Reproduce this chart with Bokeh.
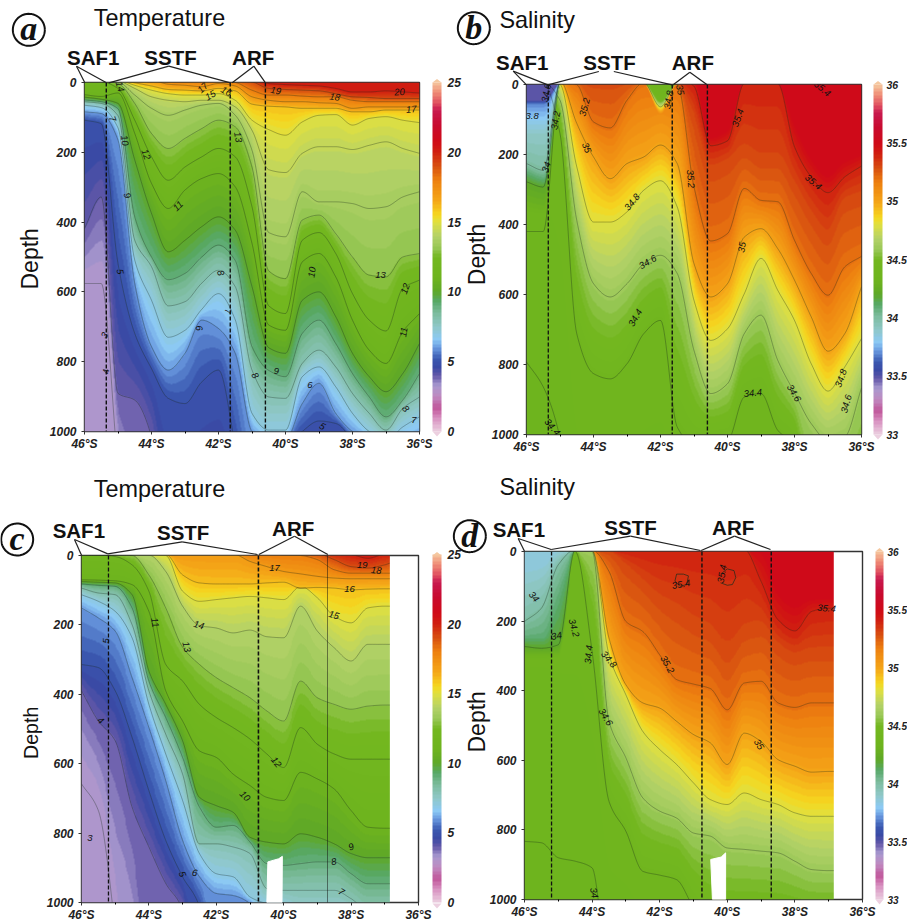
import math
import numpy as np
from bokeh.plotting import figure
from bokeh.embed import file_html
from bokeh.resources import INLINE
from bokeh.core.properties import value
from bokeh.models import Range1d, LinearColorMapper, ColorBar, FixedTicker, Label

# ---------- section coordinates ----------
LATS_NORTH = [-46, -45.5, -45, -44.5, -44, -43.5, -43, -42.5, -42, -41.5, -41, -40.5, -40, -39.5, -39,
              -38.5, -38, -37.5, -37, -36.5, -36]
LATS_SOUTH = [-46, -45.5, -45, -44.5, -44, -43.5, -43, -42.5, -42, -41.5, -41, -40.5, -40, -39.5, -39,
              -38.5, -38, -37.5, -37, -36.85]
LAT_TICKS = [-46, -44, -42, -40, -38, -36]
LAT_TICK_LABELS = ["46°S", "44°S", "42°S", "40°S", "38°S", "36°S"]
DEPTH_TICKS = [0, 200, 400, 600, 800, 1000]
TEMP_TICKS = [0, 5, 10, 15, 20, 25]
SAL_TICKS = [33, 33.5, 34, 34.5, 35, 35.5, 36]

# ---------- panel a: depth (m) of each isotherm along the section ----------
A_LEVELS = [20, 19, 18, 17, 16, 15, 14.3, 13.6, 13, 12, 11, 10, 9, 8, 7, 6, 5, 4, 3]
A_HIDDEN = []
A_DEPTHS = [
    [-10]*11 + [3, 6, 8, 10, 17, 27, 27, 24, 27, 30],
    [-10]*10 + [-2, 17, 20, 22, 24, 32, 41, 43, 46, 46, 46],
    [-10]*5 + [-7, -5, -5, -5, 0, 22, 36, 36, 39, 41, 41, 51, 55, 55, 55, 55],
    [-10, -10, -10, -9, -7, 5, 8, 12, 3, 10, 41, 51, 55, 55, 58, 60, 74, 70, 70, 70, 70],
    [-9, -9, -8, 1, 10, 20, 22, 24, 17, 24, 62, 68, 70, 74, 74, 74, 84, 84, 79, 79, 79],
    [-8, -8, -6, 8, 22, 32, 36, 36, 32, 51, 108, 135, 151, 113, 94, 92, 122, 103, 98, 108, 115],
    [-7, -7, -4, 17, 41, 51, 55, 51, 51, 70, 137, 250, 258, 203, 184, 184, 192, 180, 170, 189, 203],
    [-6, -6, -2, 36, 74, 94, 79, 65, 60, 94, 194, 430, 442, 313, 342, 342, 347, 361, 356, 328, 313],
    [-5, -4, 3, 60, 146, 189, 160, 132, 108, 127, 242, 540, 562, 394, 380, 433, 500, 552, 557, 500, 490],
    [-3, -2, 17, 108, 213, 280, 242, 213, 189, 213, 356, 640, 662, 452, 430, 490, 605, 681, 712, 590, 566],
    [35, 40, 30, 146, 289, 361, 308, 275, 261, 299, 461, 695, 710, 514, 490, 557, 681, 767, 805, 714, 662],
    [42, 48, 60, 222, 375, 485, 452, 413, 385, 423, 585, 760, 776, 624, 600, 671, 776, 843, 886, 834, 748],
    [50, 55, 75, 385, 500, 565, 547, 500, 466, 510, 757, 825, 843, 719, 681, 748, 834, 901, 958, 910, 834],
    [55, 60, 95, 452, 528, 640, 628, 575, 538, 585, 824, 901, 905, 805, 767, 815, 891, 948, 996, 934, 901],
    [65, 72, 130, 509, 624, 730, 710, 650, 605, 680, 948, 996, 996, 843, 815, 872, 948, 1000, 1025, 987, 958],
    [84, 89, 165, 576, 757, 824, 776, 681, 705, 776, 1000, 1025, 1025, 920, 862, 948, 1000, 1025, 1044, 1044, 1025],
    [108, 118, 519, 719, 820, 905, 920, 858, 824, 1040, 1300, 1300, 1053, 1000, 970, 977, 1034, 1300, 1300, 1300, 1300],
    [418, 328, 891, 910, 1015] + [1400]*16,
    [576, 576, 1100] + [1500]*18,
]

# ---------- panel b: depth (m) of each isohaline ----------
B_LEVELS = [35.5, 35.4, 35.3, 35.2, 35, 34.8, 34.6, 34.4, 34.35, 34.3]
B_HIDDEN = [35.5, 35.3, 34.3]
B_DEPTHS = [
    [-30]*11 + [150, 130, -5, -5, -5, 110, 210, 260, 220, 200],
    [-20]*10 + [5, 175, 161, -3, -3, -3, 178, 264, 309, 264, 233],
    [-15]*9 + [-5, 92, 235, 216, 188, 216, 216, 283, 369, 426, 331, 312],
    [-12, -12, -12, 0, 107, 124, 45, -5, -5, 0, 293, 447, 426, 297, 331, 335, 445, 540, 602, 521, 491],
    [-10, -10, -10, 111, 207, 269, 226, 207, 173, 226, 512, 607, 569, 436, 412, 469, 559, 664, 762, 712, 578],
    [-8, -8, 0, 235, 393, 393, 364, 302, 275, 350, 617, 731, 698, 598, 497, 588, 674, 798, 876, 807, 726],
    [-6, -6, 45, 388, 569, 607, 569, 512, 488, 540, 760, 883, 855, 712, 659, 788, 881, 969, 1017, 1007, 867],
    [-4, -4, 140, 712, 826, 841, 798, 712, 674, 979, 1030, 1017, 1017, 893, 883, 988, 1030, 1400, 1400, 1400, 1400],
    [793, 864, 1010] + [1410]*18,
    [1500]*21,
]
# fresher water near the surface, where salinity grows with depth
B_LOW_LEVELS = [33.5, 33.7, 33.9, 34, 34.2, 34.3, 34.45, 34.8, 35.1, 36]
B_LOW_DRAWN = [34, 34.2, 34.8]
B_LOW_DEPTHS = [
    [45, 45] + [-5]*19,
    [55, 55] + [-5]*19,
    [140, 140] + [-5]*19,
    [226, 245] + [-5]*19,
    [278, 293] + [-5]*19,
    [340, 350] + [-5]*19,
    [400, 400] + [-5]*6 + [45] + [-5]*12,
    [420, 420] + [-5]*6 + [64] + [-5]*12,
    [435, 435] + [-5]*6 + [83] + [-5]*12,
    [450, 450] + [-5]*6 + [100] + [-5]*12,
]

# ---------- panel c ----------
C_LEVELS = [20, 19, 18, 17, 16, 15, 14, 13, 12, 11, 10, 9, 8, 7, 6, 5, 4, 3.5, 3]
C_HIDDEN = [3.5]
C_DEPTHS = [
    [-8]*16 + [-3, 8, -3, -3],
    [-6]*14 + [-5, 12, 32, 36, 27, 22],
    [-5]*12 + [-2, 0, 12, 41, 51, 51, 51, 51],
    [-4]*10 + [17, 32, 46, 53, 60, 65, 67, 67, 67, 67],
    [-3]*6 + [56, 79, 82, 82, 82, 79, 77, 94, 92, 94, 99, 97, 96, 96],
    [-2]*5 + [0, 103, 132, 127, 122, 118, 122, 127, 89, 122, 175, 194, 151, 146, 146],
    [-1]*5 + [46, 146, 202, 209, 223, 215, 234, 237, 146, 218, 266, 304, 256, 256, 256],
    [-1, -1, -1, 0, 56, 151, 264, 314, 352, 381, 410, 448, 477, 362, 410, 429, 443, 434, 431, 431],
    [-1, -1, 3, 27, 103, 314, 362, 429, 467, 496, 529, 572, 611, 496, 544, 572, 587, 587, 587, 587],
    [70, 71, 73, 84, 161, 390, 477, 563, 582, 630, 663, 697, 706, 625, 644, 673, 735, 783, 786, 786],
    [75, 77, 79, 113, 333, 429, 534, 697, 721, 740, 812, 826, 831, 802, 812, 831, 859, 871, 871, 871],
    [82, 86, 89, 151, 362, 467, 582, 725, 783, 778, 826, 888, 893, 888, 883, 883, 917, 946, 946, 946],
    [94, 108, 113, 199, 390, 515, 630, 831, 831, 840, 859, 960, 965, 965, 965, 965, 989, 1022, 1022, 1022],
    [113, 132, 161, 237, 429, 572, 706, 859, 917, 926, 984, 1003, 1012, 1050, 1050, 1050, 1050, 1050, 1050, 1050],
    [151, 180, 218, 352, 496, 649, 821, 926, 974, 980, 1003] + [1100]*9,
    [314, 323, 390, 524, 678, 821, 926, 1012] + [1400]*12,
    [390, 477, 534, 725, 840, 945, 1022] + [1500]*13,
    [505, 601, 792, 984] + [1600]*16,
    [658, 735, 1079] + [1700]*17,
]

# ---------- panel d ----------
D_LEVELS = [35.5, 35.4, 35.3, 35.2, 35, 34.8, 34.6, 34.4, 34.35, 34.3]
D_HIDDEN = [35.5, 35.3, 34.3]
D_DEPTHS = [
    [-8]*14 + [-3, 115, 153, 134, 134, 134],
    [-6]*14 + [86, 196, 228, 172, 163, 163],
    [-5]*5 + [-1, 38, 86, 134, 163, 201, 230, 287, 230, 211, 268, 297, 287, 287, 287],
    [-4]*5 + [57, 201, 230, 297, 368, 381, 394, 455, 378, 373, 435, 448, 435, 435, 435],
    [-3]*5 + [249, 383, 435, 450, 488, 526, 550, 612, 522, 546, 598, 617, 634, 632, 632],
    [-2]*5 + [297, 412, 517, 569, 612, 665, 713, 727, 694, 713, 727, 751, 761, 761, 761],
    [-1]*4 + [0, 488, 593, 708, 746, 766, 809, 818, 852, 856, 861, 866, 890, 914, 917, 917],
    [-1, -1, -1, 0, 287, 718, 804, 919, 930, 943, 1024] + [1100]*9,
    [833, 837, 880, 890, 909] + [1200]*15,
    [1500]*20,
]
D_LOW_LEVELS = [33.85, 34, 34.1, 34.2, 34.3, 34.5, 36]
D_LOW_DRAWN = [34, 34.2]
D_LOW_DEPTHS = [
    [38, 29] + [-5]*18,
    [201, 163, 38] + [-5]*17,
    [249, 249, 134] + [-5]*17,
    [273, 278, 268] + [-5]*17,
    [297, 297, 292] + [-5]*17,
    [325, 325, 325] + [-5]*17,
    [373, 373, 373] + [-5]*17,
]
D_LOOP1_LAT = [-41.55, -41.5, -41.3, -41.15, -41.2, -41.4, -41.55]
D_LOOP1_DEPTH = [85, 65, 65, 70, 95, 100, 85]
D_LOOP2_LAT = [-40.2, -40.0, -39.8, -39.75, -39.85, -40.0, -40.2]
D_LOOP2_DEPTH = [65, 50, 55, 75, 95, 97, 90]

# fronts (latitude) and the gap in the southern sections
FRONTS_NORTH = [-45.35, -41.65, -40.6]
FRONTS_SOUTH = [-45.2, -40.75, -38.7]
GAP_C_LAT = [-40.5, -40.47, -40.15, -40.04, -40.05]
GAP_C_DEPTH = [1000, 883, 874, 867, 1000]
GAP_D_LAT = [-40.44, -40.49, -40.18, -40.05, -40.05]
GAP_D_DEPTH = [1000, 885, 878, 866, 1000]

# ---------- colour ramp (temperature scale, same ramp stretched for salinity) ----------
RAMP_POS = [0, 1, 1.7, 2.5, 3.3, 4, 4.6, 5.2, 6, 6.6, 7.5, 8.5, 9.3, 10, 11, 12.5, 13.2, 14, 15, 15.5, 16.5, 18, 19,
            20, 20.8, 22, 23, 23.5, 24.3, 25]
RAMP_COL = ["#ecd0e0", "#d890c0", "#c0569a", "#c08ac0", "#a99ad0", "#6458a8", "#3a4aa5", "#3a58b0", "#6a9ae0",
            "#8ccaf5", "#90c8c8", "#7cbc9c", "#58a868", "#5fa828", "#6eb41e", "#74b820", "#9ac858", "#b4d268",
            "#e0e040", "#f5d820", "#f5a818", "#ee8010", "#d85010", "#d02010", "#d00a18", "#c80a30", "#c81a50",
            "#e05060", "#f09078", "#f5c8a0"]


def make_palette(n=100):
    rgb = np.array([[int(c[i:i+2], 16) for i in (1, 3, 5)] for c in RAMP_COL], float)
    t = (np.arange(n) + 0.5) / n * 25
    out = []
    for v in t:
        r, g, b = (np.interp(v, RAMP_POS, rgb[:, k]) for k in range(3))
        out.append("#%02x%02x%02x" % (int(r), int(g), int(b)))
    return out


PALETTE = make_palette()


def pchip(x, y, xf):
    """Monotone cubic curve through the read points: draws the isolines as curves."""
    x = np.asarray(x, float)
    y = np.asarray(y, float)
    h = np.diff(x)
    d = np.diff(y) / h
    m = np.zeros_like(y)
    m[0], m[-1] = d[0], d[-1]
    for i in range(1, len(y) - 1):
        if d[i - 1] * d[i] > 0:
            m[i] = 2 * d[i - 1] * d[i] / (d[i - 1] + d[i])
    idx = np.clip(np.searchsorted(x, xf) - 1, 0, len(h) - 1)
    t = (xf - x[idx]) / h[idx]
    return ((2*t**3 - 3*t**2 + 1) * y[idx] + (t**3 - 2*t**2 + t) * h[idx] * m[idx]
            + (-2*t**3 + 3*t**2) * y[idx + 1] + (t**3 - t**2) * h[idx] * m[idx + 1])


def curves(lats, depths, xf):
    D = np.array([pchip(lats, d, xf) for d in depths])
    return np.maximum.accumulate(D, axis=0)


def build_field(xf, levels, D, low_levels=None, L=None, nz=350):
    z = np.linspace(0, 1000, nz)
    F = np.zeros((nz, len(xf)))
    for i in range(len(xf)):
        F[:, i] = np.interp(z, D[:, i], levels)
        if L is not None:
            F[:, i] = np.minimum(F[:, i], np.interp(z, L[:, i], low_levels))
    return F


# transparent sheet over the whole page for everything that lies outside the plot frames
sheet = figure(width=907, height=924, x_range=Range1d(0, 907), y_range=Range1d(924, 0), output_backend="svg",
               toolbar_location=None, x_axis_location=None, y_axis_location=None, min_border=0,
               outline_line_color=None, background_fill_color=None, border_fill_color=None,
               styles={"position": "absolute", "left": "0px", "top": "0px"})
sheet.grid.visible = False


def sheet_text(x, y, s, size, style="normal", font="Liberation Sans", angle=0.0):
    sheet.text(x=[x], y=[y], text=[s], text_font=value(font), text_font_size=value(size), text_font_style=style,
               text_align="center", text_baseline="middle", angle=math.radians(angle), text_color="#111111")


def panel(width, box, ox, oy, height, lats, levels, depths, hidden, low, vmin, vmax, cticks, fronts, front_dash,
          title, title_xy, depth_xy, depth_size, letter, letter_xy, names, links, clabels, gap, extra,
          cbar_gap, cbar_width, cbar_font, cbar_standoff):
    L, T, R, B = box
    p = figure(width=width, height=height, x_range=Range1d(-46, -36), y_range=Range1d(1000, 0),
               output_backend="svg", toolbar_location=None, border_fill_color=None,
               min_border_left=L - ox, min_border_right=ox + width - R,
               min_border_top=T - oy, min_border_bottom=oy + height - B,
               styles={"position": "absolute", "left": "%dpx" % ox, "top": "%dpx" % oy})
    p.grid.visible = False
    p.outline_line_color = "#333333"
    p.outline_line_width = 1.4

    mapper = LinearColorMapper(palette=PALETTE, low=vmin, high=vmax)
    low_levels, low_depths, low_drawn = low if low else (None, None, [])
    xf = np.linspace(lats[0], lats[-1], 340)
    D = curves(lats, depths, xf)
    Lw = curves(lats, low_depths, xf) if low else None
    F = build_field(xf, levels, D, low_levels, Lw)
    p.image(image=[F], x=lats[0], y=0, dw=lats[-1] - lats[0], dh=1000, color_mapper=mapper)

    for k, lev in enumerate(levels):
        if lev not in hidden:
            p.line(xf, D[k], line_color="#1c2c1c", line_alpha=0.42, line_width=0.8)
    if low:
        for k, lev in enumerate(low_levels):
            if lev in low_drawn:
                p.line(xf, Lw[k], line_color="#1c2c1c", line_alpha=0.42, line_width=0.8)
    for xs, ys in extra:
        p.line(xs, ys, line_color="#1c2c1c", line_alpha=0.8, line_width=0.9)
    if gap:
        p.patch(gap[0], gap[1], fill_color="white", line_color="white")

    for f, dash in zip(fronts, front_dash):
        p.line([f, f], [0, 1000], line_color="#111111", line_dash=dash[0], line_width=dash[1])

    for ax in (p.xaxis[0], p.yaxis[0]):
        ax.axis_line_color = None
        ax.major_tick_line_color = "#333333"
        ax.major_tick_out = 3
        ax.major_tick_in = 0
        ax.minor_tick_out = 2
        ax.minor_tick_in = 0
        ax.major_label_text_font = "Liberation Sans"
        ax.major_label_text_font_style = "bold italic"
        ax.major_label_text_font_size = "12px"
        ax.major_label_text_color = "#222222"
        ax.major_label_standoff = 2
    p.xaxis[0].ticker = FixedTicker(ticks=LAT_TICKS, minor_ticks=[-45, -43, -41, -39, -37])
    p.xaxis[0].major_label_overrides = dict(zip(LAT_TICKS, LAT_TICK_LABELS))
    p.yaxis[0].ticker = FixedTicker(ticks=DEPTH_TICKS)
    p.yaxis[0].major_label_standoff = 5

    cb = ColorBar(color_mapper=mapper, ticker=FixedTicker(ticks=cticks), location=(R - L + cbar_gap, 0),
                  width=cbar_width, height=B - T, padding=0, margin=0, background_fill_alpha=0,
                  major_tick_line_color=None, bar_line_color=None, major_label_text_font="Liberation Sans",
                  label_standoff=cbar_standoff, major_label_text_font_style="bold italic",
                  major_label_text_font_size=cbar_font, major_label_text_color="#222222", border_line_color=None)
    p.add_layout(cb)

    # tips of the colour bar
    bx0 = R + cbar_gap
    sheet.patch([bx0, bx0 + cbar_width, bx0 + cbar_width / 2], [T, T, T - 3.5], fill_color=RAMP_COL[-1],
                line_color=None)
    sheet.patch([bx0, bx0 + cbar_width, bx0 + cbar_width / 2], [B, B, B + 5], fill_color=RAMP_COL[0],
                line_color=None)

    sheet_text(ox + title_xy[0] / 3, oy + title_xy[1] / 3, title, "23.4px")
    sheet_text(ox + depth_xy[0] / 3, oy + depth_xy[1] / 3, "Depth", depth_size, angle=90)
    for s, zx, zy in names:
        sheet_text(ox + zx / 3, oy + zy / 3, s, "20.5px", style="bold")
    for (x0, y0, x1, y1) in links:
        sheet.line([ox + x0 / 3, ox + x1 / 3], [oy + y0 / 3, oy + y1 / 3], line_color="#222222", line_width=1.2)

    for s, zx, zy, ang in clabels:
        p.add_layout(Label(x=-46 + (ox + zx / 3 - L) / (R - L) * 10, y=(oy + zy / 3 - T) / (B - T) * 1000, text=s,
                           text_font="Liberation Sans", text_font_size="9.5px", text_font_style="italic",
                           text_align="center", text_baseline="middle", angle=math.radians(ang),
                           text_color="#111111"))

    # circled panel letter
    cx, cy = letter_xy
    t = np.linspace(0, 2 * np.pi, 60)
    sheet.line(ox + (cx + 48 * np.cos(t)) / 3, oy + (cy + 48 * np.sin(t)) / 3, line_color="#111111", line_width=2)
    sheet_text(ox + cx / 3, oy + (cy - 3) / 3, letter, "34px", style="bold italic", font="Liberation Serif")
    return p


pa = panel(475, (84, 82, 419, 431), 0, 0, 464, LATS_NORTH, A_LEVELS, A_DEPTHS, A_HIDDEN, None, 0, 25, TEMP_TICKS,
           FRONTS_NORTH, [("4 2", 1.4), ("4 2", 1.4), ("4 2", 1.4)],
           "Temperature", (477, 52), (88, 775), "23px", "a", (85, 88),
           [("SAF1", 278, 170), ("SSTF", 510, 170), ("ARF", 758, 170)],
           [(228, 197, 253, 247), (228, 197, 318, 247), (505, 197, 325, 247), (505, 197, 690, 247),
            (760, 197, 695, 247), (760, 197, 795, 247)],
           [("14", 358, 258, -75), ("7", 335, 355, -70), ("10", 372, 420, -80), ("12", 436, 462, -70),
            ("9", 380, 585, -75), ("5", 358, 813, -80), ("3", 313, 1005, 60), ("4", 317, 1113, 90),
            ("11", 533, 617, 45), ("17", 607, 262, 45), ("15", 630, 285, 30), ("16", 677, 273, -30),
            ("19", 826, 271, -10), ("18", 1003, 290, -10), ("20", 1197, 275, 5), ("17", 1232, 327, 5),
            ("13", 712, 410, -80), ("8", 660, 817, -70), ("7", 683, 932, -90), ("6", 595, 983, -80),
            ("13", 1140, 822, 0), ("12", 1215, 865, 70), ("11", 1210, 995, 80), ("10", 935, 815, 80),
            ("9", 828, 1110, 0), ("8", 763, 1125, -60), ("6", 928, 1152, 0), ("5", 965, 1278, -30),
            ("8", 1215, 1225, -50), ("7", 1240, 1258, 0)],
           None, [], 13, 9, "12px", 6)

pb = panel(457, (526, 84, 861, 434), 450, 0, 464, LATS_NORTH, B_LEVELS, B_DEPTHS, B_HIDDEN,
           (B_LOW_LEVELS, B_LOW_DEPTHS, B_LOW_DRAWN), 33, 36, SAL_TICKS,
           FRONTS_NORTH, [("4 2", 1.3), ("4 2", 1.4), ("4 2", 1.4)],
           "Salinity", (260, 58), (78, 762), "23px", "b", (70, 83),
           [("SAF1", 215, 187), ("SSTF", 477, 187), ("ARF", 727, 187)],
           [(188, 212, 228, 253), (188, 212, 292, 253), (292, 253, 445, 213), (490, 213, 665, 253),
            (718, 215, 668, 253), (718, 215, 770, 253)],
           [("34.6", 288, 278, 80), ("34.8", 655, 298, 80), ("35", 688, 268, -80), ("35.2", 403, 320, 75),
            ("3.8", 245, 347, 0), ("34.2", 316, 360, 80), ("35.4", 863, 352, 70), ("35", 408, 442, -70),
            ("34", 288, 500, 70), ("35.2", 720, 535, -85), ("35.4", 1088, 545, -40), ("34.8", 545, 605, 50),
            ("35", 875, 740, 80), ("34.6", 592, 785, 30), ("34.4", 555, 952, 60), ("34.4", 907, 1178, 5),
            ("34.6", 1030, 1178, -60), ("34.8", 1172, 1133, 70), ("34.6", 1188, 1210, 75), ("34.4", 305, 1280, -50),
            ("35.4", 1115, 265, -40)],
           None, [], 12, 9, "10.5px", 4)

pc = panel(475, (81, 555, 418, 903), 0, 464, 460, LATS_SOUTH, C_LEVELS, C_DEPTHS, C_HIDDEN, None, 0, 25, TEMP_TICKS,
           FRONTS_SOUTH, [("4 2", 1.3), ("4 2", 1.6), ("1 1", 1.0)],
           "Temperature", (477, 73), (90, 805), "19.6px", "c", (50, 225),
           [("SAF1", 235, 197), ("SSTF", 548, 203), ("ARF", 878, 192)],
           [(222, 225, 243, 272), (222, 225, 322, 268), (545, 232, 322, 268), (545, 232, 771, 270),
            (882, 215, 775, 270), (882, 215, 982, 270)],
           [("17", 822, 310, 0), ("16", 1047, 375, 0), ("15", 1000, 453, -15), ("14", 595, 483, -15),
            ("13", 558, 548, -75), ("11", 463, 475, -80), ("12", 827, 895, -50), ("10", 733, 997, -45),
            ("19", 1085, 303, 0), ("18", 1127, 318, -5), ("9", 1052, 1150, 20), ("8", 1000, 1195, 10),
            ("7", 1022, 1285, -30), ("6", 582, 1228, -10), ("5", 545, 1232, -70), ("4", 300, 770, -40),
            ("3", 268, 1122, 0), ("5", 317, 530, 90)],
           (GAP_C_LAT, GAP_C_DEPTH), [], 14, 9, "12px", 6)

pd = panel(457, (524, 551, 862, 899), 450, 464, 460, LATS_SOUTH, D_LEVELS, D_DEPTHS, D_HIDDEN,
           (D_LOW_LEVELS, D_LOW_DEPTHS, D_LOW_DRAWN), 33, 36, SAL_TICKS,
           FRONTS_SOUTH, [("4 2", 1.3), ("4 2", 1.4), ("4 2", 1.4)],
           "Salinity", (260, 68), (78, 772), "23px", "d", (58, 215),
           [("SAF1", 205, 195), ("SSTF", 540, 190), ("ARF", 848, 190)],
           [(203, 222, 222, 260), (203, 222, 302, 255), (540, 215, 302, 255), (540, 215, 750, 258),
            (852, 215, 752, 258), (852, 215, 960, 255)],
           [("34", 250, 397, -50), ("34", 318, 515, 10), ("34.2", 370, 490, -75), ("34.4", 415, 570, 85),
            ("34.8", 475, 585, -50), ("34.6", 465, 758, -60), ("35.2", 650, 600, -60), ("35.4", 692, 360, 10),
            ("35.4", 815, 328, 80), ("35", 925, 840, -60), ("35.4", 1128, 432, -5), ("34", 430, 1285, -80)],
           (GAP_D_LAT, GAP_D_DEPTH),
           [(D_LOOP1_LAT, D_LOOP1_DEPTH), (D_LOOP2_LAT, D_LOOP2_DEPTH)], 13, 8, "10px", 4)

open("out.html", "w").write(file_html([pa, pb, pc, pd, sheet], INLINE))
